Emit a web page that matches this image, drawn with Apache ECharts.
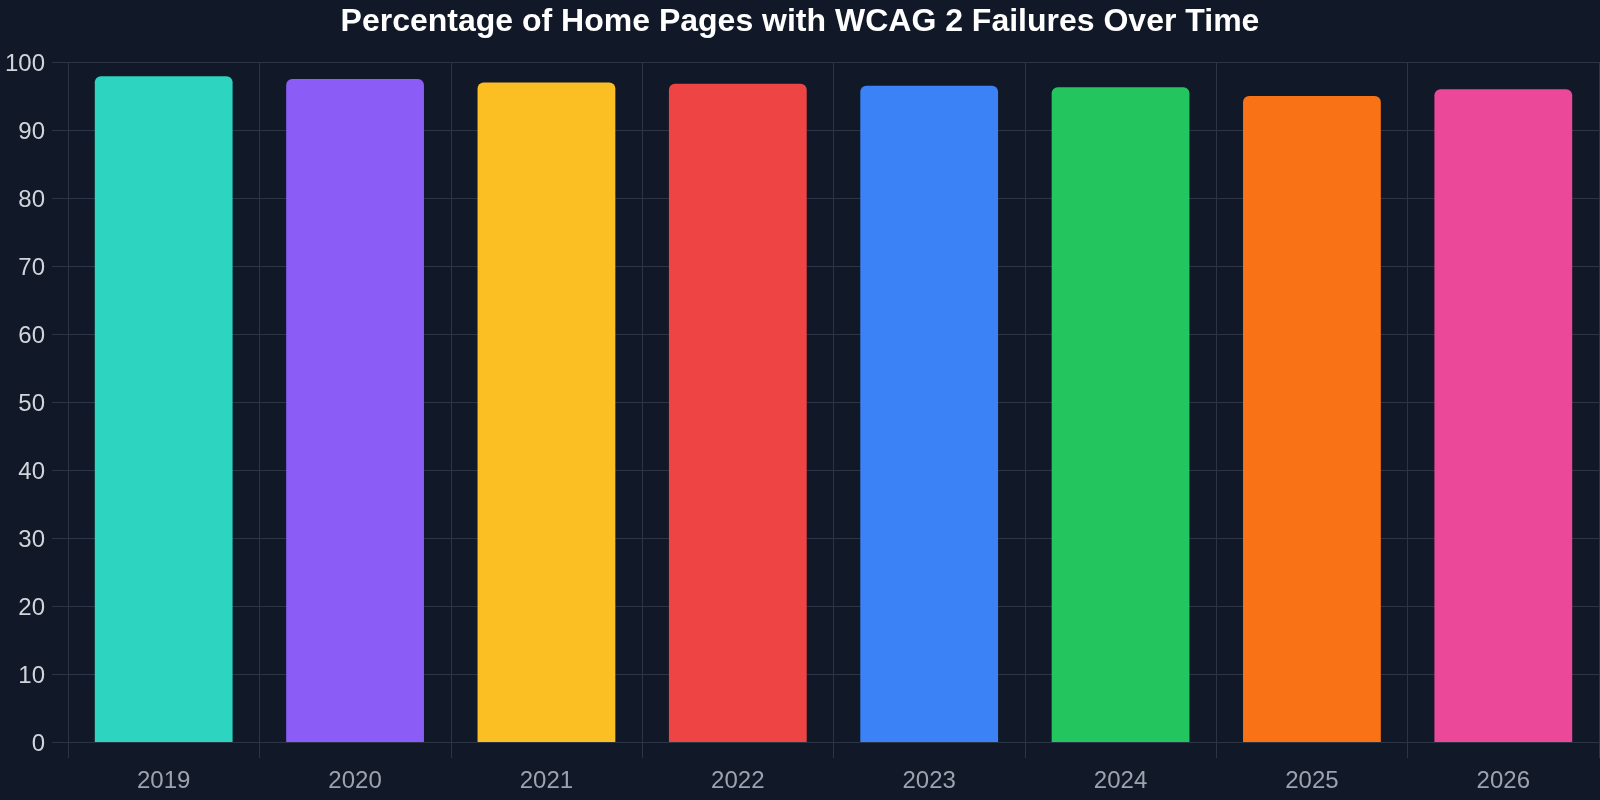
<!DOCTYPE html>
<html>
<head>
<meta charset="utf-8">
<script src="https://cdn.jsdelivr.net/npm/echarts@6/dist/echarts.min.js"></script>
<style>
html,body{margin:0;padding:0;background:#111827;}
#chart{width:1600px;height:800px;}
</style>
</head>
<body>
<div id="chart"></div>
<script>
const titleText = 'Percentage of Home Pages with WCAG 2 Failures Over Time';
const years = ['2019','2020','2021','2022','2023','2024','2025','2026'];
const failurePct = [97.9, 97.5, 97.0, 96.8, 96.5, 96.3, 95.0, 96.0];
const barColors = ['#2dd4bf','#8b5cf6','#fbbf24','#ef4444','#3b82f6','#22c55e','#f97316','#ec4899'];

const chart = echarts.init(document.getElementById('chart'), null, {renderer:'canvas'});
const gridColor = '#2c3545';
const font = 'Liberation Sans, Arial, sans-serif';
chart.setOption({
  backgroundColor: '#111827',
  animation: false,
  title: {
    text: titleText,
    left: 'center',
    top: 1,
    textStyle: {color:'#ffffff', fontSize:32, fontWeight:'bold', fontFamily:font}
  },
  grid: {left:68, right:1, top:62, bottom:58, containLabel:false},
  xAxis: {
    type:'category',
    data: years,
    axisLine:{show:true, lineStyle:{color:gridColor, width:1}},
    axisTick:{show:true, length:16, lineStyle:{color:gridColor, width:1}},
    splitLine:{show:true, lineStyle:{color:gridColor, width:1}},
    axisLabel:{color:'#9ca3af', fontSize:24, margin:27, fontFamily:font}
  },
  yAxis: {
    type:'value',
    min:0, max:100, interval:10,
    axisLine:{show:false},
    axisTick:{show:true, length:16, lineStyle:{color:gridColor, width:1}},
    splitLine:{show:true, lineStyle:{color:gridColor, width:1}},
    axisLabel:{
      margin:23,
      formatter:'{v|{value}}',
      rich:{v:{color:'#d1d5db', fontSize:24, fontFamily:font, padding:[5,0,0,0]}}
    }
  },
  series: [{
    type:'bar',
    barWidth:'72%',
    data: failurePct.map((v,i)=>({value:v, itemStyle:{color:barColors[i], borderRadius:[6,6,0,0]}}))
  }]
});
</script>
</body>
</html>
